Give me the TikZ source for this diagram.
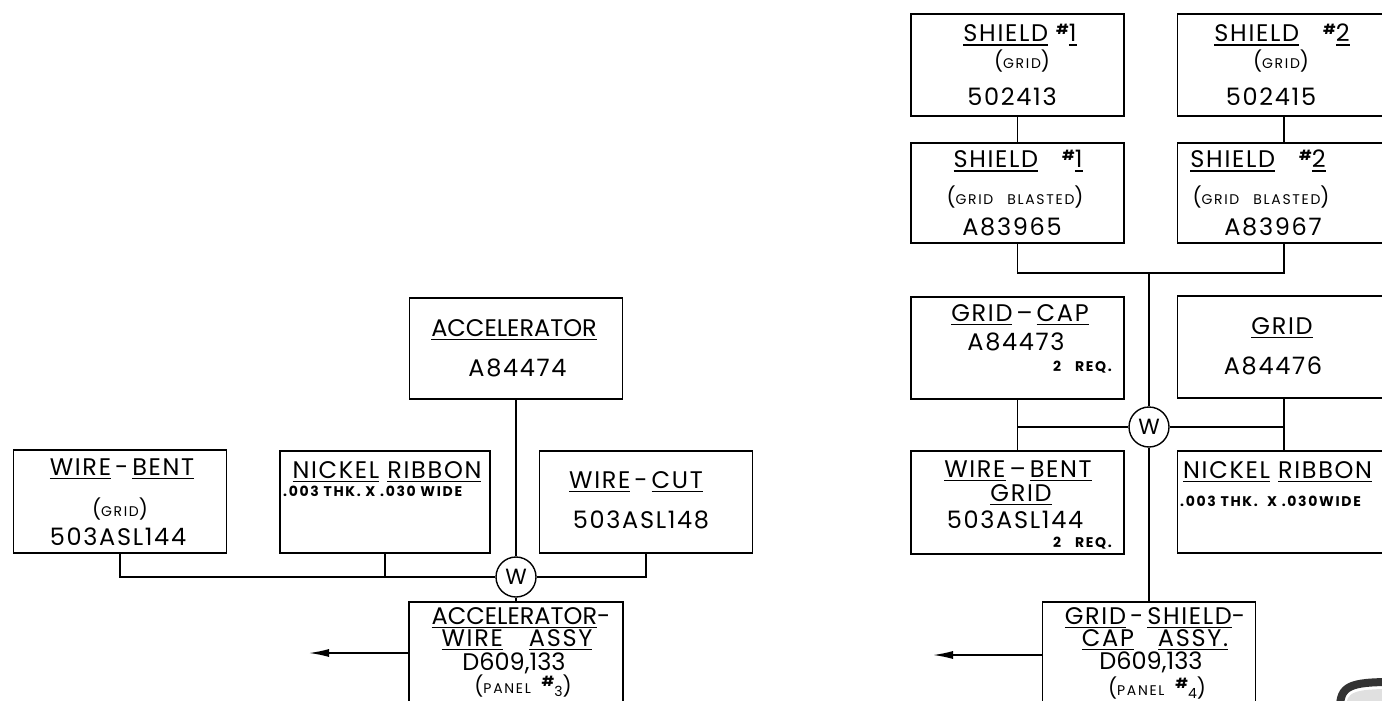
\documentclass[tikz,border=0pt]{standalone}
\usepackage{fontspec}
\setmainfont{Poppins}[LetterSpace=7]
\newfontfamily\nf{Poppins}
\newfontfamily\specf{Poppins}[LetterSpace=12]
\usetikzlibrary{arrows.meta}
\newsavebox\ulbox
\newcommand\ulw[1]{\sbox\ulbox{#1}\rlap{\rule[-4pt]{\wd\ulbox}{1.5pt}}\usebox\ulbox}
\newcommand\numsign[1]{\raisebox{7pt}{\bfseries\fontsize{14}{14}\selectfont\#}#1}
\newcommand\bigp[1]{{\fontsize{20}{20}\selectfont #1}}
\newcommand\paren[1]{\bigp{(}{\specf\fontsize{14}{14}\selectfont #1}\bigp{)}}
\tikzset{
  box/.style={draw, line width=1.5pt, minimum width=213pt, minimum height=102pt, inner sep=0pt},
  wc/.style={draw, circle, line width=1.4pt, minimum size=40pt, inner sep=0pt, font=\nf\fontsize{22}{22}\selectfont},
  conn/.style={line width=1.4pt},
  big/.style={font=\fontsize{24}{24}\selectfont, inner sep=0pt},
  sm/.style={inner sep=0pt},
  spec/.style={font=\specf\bfseries\fontsize{14}{14}\selectfont, inner sep=0pt},
  outarrow/.style={line width=1.4pt, -{Latex[length=20pt,width=8pt]}},
}
\begin{document}
\begin{tikzpicture}[x=1pt,y=-1pt]
\clip (0,0) rectangle (1382,701);
\fill[white] (0,0) rectangle (1382,701);

% ---------------- left diagram ----------------
\node[box, minimum height=103pt] (lwb) at (120,501.5) {};
\node[big] (lwbt) at (122,469) {\ulw{WIRE}\,-\,\ulw{BENT}};
\node[sm] (lwbg) at (120,509) {\paren{GRID}};
\node[big] (lwbn) at (118,537) {503ASL144};

\node[box, minimum width=210pt] (lnr) at (385,502) {};
\node[big] (lnrt) at (387,472) {\ulw{NICKEL}\ \ulw{RIBBON}};
\node[spec, anchor=west] (lnrs) at (283,491) {.003 THK. X .030 WIDE};

\node[box, minimum height=101pt] (lacc) at (516,348.5) {};
\node[big, font=\nf\fontsize{24}{24}\selectfont] (lacct) at (514,330) {\ulw{ACCELERATOR}};
\node[big] (laccn) at (517.5,368) {A84474};

\node[box] (lwc) at (646,502) {};
\node[big] (lwct) at (636,482) {\ulw{WIRE}\,-\,\ulw{CUT}};
\node[big] (lwcn) at (641,520) {503ASL148};

\node[box, minimum width=214pt, minimum height=130pt] (lasm) at (516,667) {};
\node[big, font=\nf\fontsize{24}{24}\selectfont] (lasm1) at (521,618) {\ulw{ACCELERATOR}-};
\node[big] (lasm2) at (517,640) {\ulw{WIRE}\hspace{26pt}\ulw{ASSY}};
\node[big, font=\nf\fontsize{24}{24}\selectfont] (lasm3) at (514,663) {D609,133};
\node[sm] (lasm4) at (523,686) {\bigp{(}{\specf\fontsize{14}{14}\selectfont PANEL\ \ \numsign{\raisebox{-3pt}{3}}}\bigp{)}};

\node[wc] (wl) at (516,577) {W};

\draw[conn] (lacc.south) -- (wl.north);
\draw[conn] (lwb.south) |- (wl.west);
\draw[conn] (lnr.south) -- (lnr.south |- wl.west);
\draw[conn] (lwc.south) |- (wl.east);
\draw[conn] (wl.south) -- (lasm.north);
\coordinate (la) at (309,653);
\draw[outarrow] (lasm.west |- la) -- (la);

% ---------------- right diagram ----------------
\node[box] (s1) at (1017.5,65) {};
\node[big] (s1t) at (1020,35) {\ulw{SHIELD}\ \numsign{\ulw{1}}};
\node[sm] (s1g) at (1022,61) {\paren{GRID}};
\node[big] (s1n) at (1012,97) {502413};

\node[box] (s2) at (1284,65) {};
\node[big] (s2t) at (1282,35) {\ulw{SHIELD}\quad\numsign{\ulw{2}}};
\node[sm] (s2g) at (1281,61) {\paren{GRID}};
\node[big] (s2n) at (1271,97) {502415};

\node[box, minimum height=100pt] (s1b) at (1017.5,193) {};
\node[big] (s1bt) at (1018,161) {\ulw{SHIELD}\quad\numsign{\ulw{1}}};
\node[sm] (s1bg) at (1015,197) {\paren{GRID\quad BLASTED}};
\node[big] (s1bn) at (1012,227) {A83965};

\node[box, minimum height=100pt] (s2b) at (1284,193) {};
\node[big] (s2bt) at (1258,161) {\ulw{SHIELD}\quad\numsign{\ulw{2}}};
\node[sm] (s2bg) at (1261,197) {\paren{GRID\quad BLASTED}};
\node[big] (s2bn) at (1273,227) {A83967};

\node[box] (gc) at (1017.5,348) {};
\node[big] (gct) at (1020,315) {\ulw{GRID}\,--\,\ulw{CAP}};
\node[big] (gcn) at (1016,342) {A84473};
\node[spec, anchor=east] (gcr) at (1112,367) {2\quad REQ.};

\node[box] (gr) at (1284,347) {};
\node[big] (grt) at (1282,328) {\ulw{GRID}};
\node[big] (grn) at (1273,366) {A84476};

\node[wc] (wr) at (1149,427) {W};

\node[box, minimum height=103pt] (wb) at (1017.5,502.5) {};
\node[big] (wbt) at (1018,471) {\ulw{WIRE}\,--\,\ulw{BENT}};
\node[big] (wbg) at (1021,495) {\ulw{GRID}};
\node[big] (wbn) at (1015,520) {503ASL144};
\node[spec, anchor=east] (wbr) at (1112,543) {2\quad REQ.};

\node[box] (nr) at (1284,502) {};
\node[big, anchor=west] (nrt) at (1183,472) {\ulw{NICKEL}\ \ulw{RIBBON}};
\node[spec, anchor=west] (nrs) at (1180,501) {.003 THK.\ \ X .030WIDE};

\node[box, minimum height=130pt] (rasm) at (1149,667) {};
\node[big] (rasm1) at (1155,618) {\ulw{GRID}\,-\,\ulw{SHIELD}-};
\node[big] (rasm2) at (1155,640) {\ulw{CAP}\quad\ulw{ASSY.}};
\node[big, font=\nf\fontsize{24}{24}\selectfont] (rasm3) at (1151,662) {D609,133};
\node[sm] (rasm4) at (1157,688) {\bigp{(}{\specf\fontsize{14}{14}\selectfont PANEL\ \ \numsign{\raisebox{-3pt}{4}}}\bigp{)}};

\draw[conn] (s1.south) -- (s1b.north);
\draw[conn] (s2.south) -- (s2b.north);
\coordinate (jt) at (1149,273);
\draw[conn] (s1b.south) |- (jt) -| (s2b.south);
\draw[conn] (jt) -- (wr.north);
\draw[conn] (gc.south) -- (wb.north);
\draw[conn] (gc.south |- wr.west) -- (wr.west);
\draw[conn] (gr.south) -- (nr.north);
\draw[conn] (wr.east) -- (gr.south |- wr.east);
\draw[conn] (wr.south) -- (rasm.north);
\coordinate (ra) at (933,655);
\draw[outarrow] (rasm.west |- ra) -- (ra);

% scan artefact at lower right corner
\fill[black!12] (1346,708) .. controls (1346,692) and (1354,689) .. (1392,689) -- (1392,708) -- cycle;
\draw[line width=8pt, black!80, line cap=round] (1340,708) .. controls (1340,686) and (1350,682) .. (1392,682);
\end{tikzpicture}
\end{document}
